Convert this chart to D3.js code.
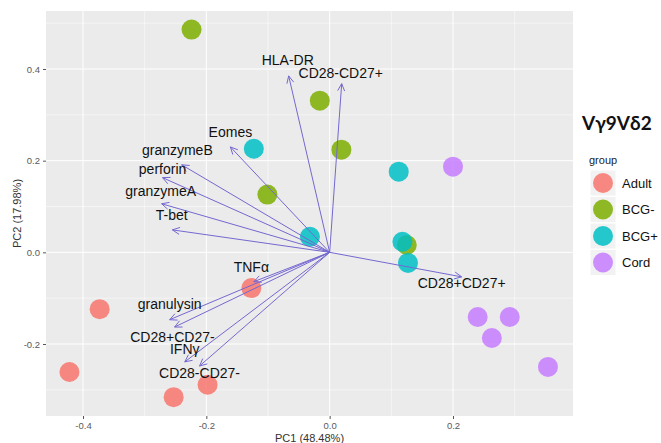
<!DOCTYPE html>
<html>
<head>
  <meta charset="UTF-8">
  <style>
    body { margin: 0; background: white; }
    svg { font-family: "Liberation Sans", Arial, sans-serif; }
    .grid-major { stroke: white; stroke-width: 1; }
    .grid-minor { stroke: white; stroke-width: 0.5; }
    .tick-label { fill: #5a5a5a; font-size: 9.5px; }
    .axis-title { fill: #333; font-size: 11px; }
    .var-label { fill: #111; font-size: 14px; }
    .arrow { stroke: #7468d0; stroke-width: 1; fill: none; }
  </style>
</head>
<body>
<div id="chart"></div>
<script src="https://d3js.org/d3.v7.min.js"></script>
<script>

// samples (PC scores)
const groups = ["Adult", "BCG-", "BCG+", "Cord"];
const groupColors = ["#F8766D", "#7CAE00", "#00BFC4", "#C77CFF"];

const sampleGroup = ["Adult", "Adult", "Adult", "Adult", "Adult",
                     "BCG-", "BCG-", "BCG-", "BCG-", "BCG-",
                     "BCG+", "BCG+", "BCG+", "BCG+", "BCG+",
                     "Cord", "Cord", "Cord", "Cord", "Cord"];
const samplePC1 = [-0.127, -0.373, -0.422, -0.253, -0.198,
                   -0.224, -0.016, 0.019, -0.101, 0.125,
                   -0.123, 0.112, -0.032, 0.118, 0.127,
                   0.200, 0.240, 0.292, 0.263, 0.354];
const samplePC2 = [-0.078, -0.124, -0.261, -0.316, -0.289,
                   0.486, 0.331, 0.224, 0.126, 0.016,
                   0.226, 0.176, 0.034, 0.023, -0.023,
                   0.187, -0.141, -0.141, -0.187, -0.250];

// loadings (arrow tips) and where the labels sit
const varNames = ["HLA-DR", "CD28-CD27+", "Eomes", "granzymeB", "perforin", "granzymeA", "T-bet",
                  "TNFα", "granulysin", "CD28+CD27-", "IFNγ", "CD28-CD27-", "CD28+CD27+"];
const varPC1 = [-0.0665, 0.0195, -0.161, -0.240, -0.271, -0.2725, -0.255,
                -0.123, -0.2595, -0.2515, -0.235, -0.211, 0.214];
const varPC2 = [0.385, 0.368, 0.230, 0.191, 0.163, 0.106, 0.049,
                -0.064, -0.147, -0.163, -0.239, -0.248, -0.0535];
const labelPC1 = [-0.068, 0.018, -0.161, -0.247, -0.271, -0.274, -0.256,
                  -0.127, -0.2595, -0.255, -0.235, -0.211, 0.214];
const labelPC2 = [0.420, 0.392, 0.263, 0.224, 0.182, 0.134, 0.082,
                  -0.032, -0.112, -0.184, -0.211, -0.263, -0.067];

const xTicks = [-0.4, -0.2, 0.0, 0.2];
const yTicks = [-0.2, 0.0, 0.2, 0.4];
const xMinor = [-0.3, -0.1, 0.1, 0.3];
const yMinor = [-0.3, -0.1, 0.1, 0.3, 0.5];

const width = 661, height = 443;
const panel = {left: 46, right: 573, top: 11, bottom: 416};

let svg = d3.select("#chart").append("svg")
    .attr("width", width)
    .attr("height", height);

let x = d3.scaleLinear().domain([-0.4, 0.2]).range([83, 453]);
let y = d3.scaleLinear().domain([-0.2, 0.4]).range([344, 69]);
let color = d3.scaleOrdinal(groups, groupColors);

// panel background + grid
svg.append("rect")
    .attr("x", panel.left).attr("y", panel.top)
    .attr("width", panel.right - panel.left)
    .attr("height", panel.bottom - panel.top)
    .attr("fill", "#EBEBEB");

let grid = svg.append("g");
grid.selectAll(".xm").data(xMinor).enter().append("line")
    .attr("class", "grid-minor")
    .attr("x1", d => x(d)).attr("x2", d => x(d))
    .attr("y1", panel.top).attr("y2", panel.bottom);
grid.selectAll(".ym").data(yMinor).enter().append("line")
    .attr("class", "grid-minor")
    .attr("y1", d => y(d)).attr("y2", d => y(d))
    .attr("x1", panel.left).attr("x2", panel.right);
grid.selectAll(".xM").data(xTicks).enter().append("line")
    .attr("class", "grid-major")
    .attr("x1", d => x(d)).attr("x2", d => x(d))
    .attr("y1", panel.top).attr("y2", panel.bottom);
grid.selectAll(".yM").data(yTicks).enter().append("line")
    .attr("class", "grid-major")
    .attr("y1", d => y(d)).attr("y2", d => y(d))
    .attr("x1", panel.left).attr("x2", panel.right);

// axes
let xAxis = svg.append("g")
    .attr("transform", "translate(0," + panel.bottom + ")")
    .call(d3.axisBottom(x).tickValues(xTicks).tickFormat(d3.format(".1f")).tickSize(3).tickPadding(3));
let yAxis = svg.append("g")
    .attr("transform", "translate(" + panel.left + ",0)")
    .call(d3.axisLeft(y).tickValues(yTicks).tickFormat(d3.format(".1f")).tickSize(3).tickPadding(3));
[xAxis, yAxis].forEach(a => {
    a.select(".domain").remove();
    a.selectAll(".tick line").attr("stroke", "#555");
    a.selectAll(".tick text").attr("class", "tick-label").attr("font-family", null).attr("font-size", null);
});
// d3 uses a minus sign; ggplot uses a hyphen
svg.selectAll(".tick-label").text(d => d3.format(".1f")(d).replace("−", "-"));

svg.append("text")
    .attr("class", "axis-title")
    .attr("x", (panel.left + panel.right) / 2)
    .attr("y", 442)
    .attr("text-anchor", "middle")
    .text("PC1 (48.48%)");
svg.append("text")
    .attr("class", "axis-title")
    .attr("transform", "translate(21," + (panel.top + panel.bottom) / 2 + ") rotate(-90)")
    .attr("text-anchor", "middle")
    .text("PC2 (17.98%)");

// points
let samples = sampleGroup.map((g, i) => ({group: g, pc1: samplePC1[i], pc2: samplePC2[i]}));
svg.append("g").selectAll("circle")
    .data(samples)
    .enter()
    .append("circle")
    .attr("cx", d => x(d.pc1))
    .attr("cy", d => y(d.pc2))
    .attr("r", 10)
    .attr("fill", d => color(d.group))
    .attr("fill-opacity", 0.85);

// loading arrows
let vars = varNames.map((n, i) => ({name: n, pc1: varPC1[i], pc2: varPC2[i], lx: labelPC1[i], ly: labelPC2[i]}));
let arrows = svg.append("g");
vars.forEach(d => {
    let x0 = x(0), y0 = y(0), x1 = x(d.pc1), y1 = y(d.pc2);
    let ang = Math.atan2(y1 - y0, x1 - x0);
    let len = 8, spread = Math.PI / 7;
    arrows.append("line")
        .attr("class", "arrow")
        .attr("x1", x0).attr("y1", y0)
        .attr("x2", x1).attr("y2", y1);
    arrows.append("path")
        .attr("class", "arrow")
        .attr("d", "M" + (x1 - len * Math.cos(ang - spread)) + "," + (y1 - len * Math.sin(ang - spread)) +
                   "L" + x1 + "," + y1 +
                   "L" + (x1 - len * Math.cos(ang + spread)) + "," + (y1 - len * Math.sin(ang + spread)));
});

svg.append("g").selectAll("text")
    .data(vars)
    .enter()
    .append("text")
    .attr("class", "var-label")
    .attr("x", d => x(d.lx))
    .attr("y", d => y(d.ly))
    .attr("dy", "0.35em")
    .attr("text-anchor", "middle")
    .text(d => d.name);

// title + legend
svg.append("text")
    .attr("x", 582)
    .attr("y", 130)
    .attr("font-family", "Lato, 'Open Sans', sans-serif")
    .attr("font-weight", "bold")
    .attr("font-size", "19px")
    .attr("fill", "#111")
    .text("Vγ9Vδ2");

let legend = svg.append("g");
legend.append("text")
    .attr("x", 589)
    .attr("y", 164)
    .attr("font-size", "11px")
    .attr("fill", "#222")
    .text("group");

let keys = legend.selectAll("g.key")
    .data(groups)
    .enter()
    .append("g")
    .attr("class", "key")
    .attr("transform", (d, i) => "translate(603," + (183 + i * 26.5) + ")");
keys.append("rect")
    .attr("x", -13).attr("y", -13)
    .attr("width", 26).attr("height", 26)
    .attr("fill", "#F2F2F2")
    .attr("stroke", "white");
keys.append("circle")
    .attr("r", 10)
    .attr("fill", d => color(d))
    .attr("fill-opacity", 0.85);
keys.append("text")
    .attr("x", 19)
    .attr("dy", "0.35em")
    .attr("font-size", "13px")
    .attr("fill", "#111")
    .text(d => d);

</script>
</body>
</html>
